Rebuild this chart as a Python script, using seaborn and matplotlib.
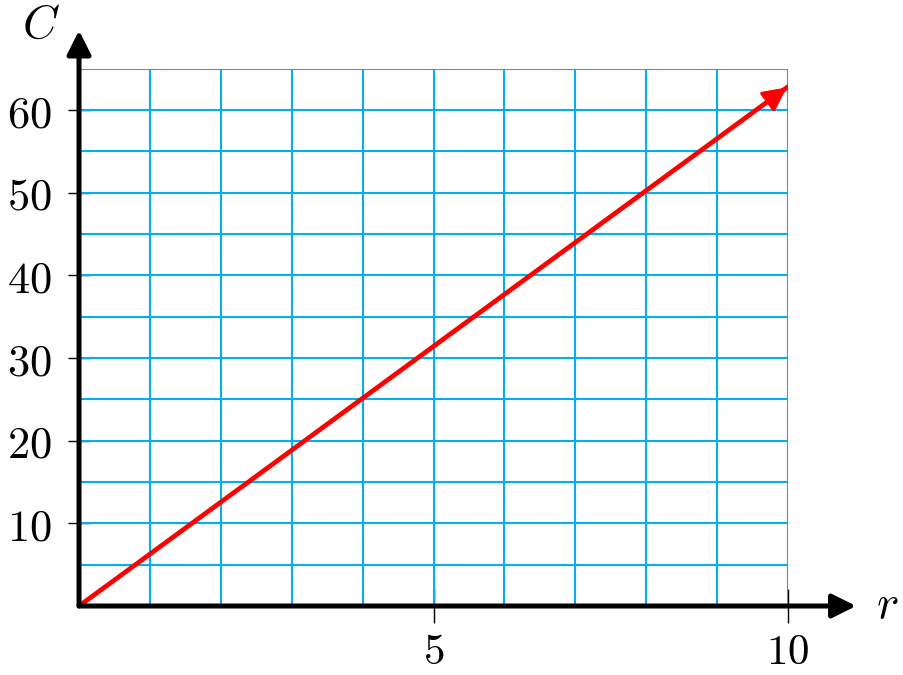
import numpy as np
import matplotlib
matplotlib.use('Agg')
import matplotlib.pyplot as plt
import seaborn as sns

# circumference C = 2*pi*r
r_vals = [0, 10]
c_vals = [0, 62.83]
x_ticks = [5, 10]
x_tick_labels = ['$5$', '$10$']
y_ticks = [10, 20, 30, 40, 50, 60]
y_tick_labels = ['$10$', '$20$', '$30$', '$40$', '$50$', '$60$']
grid_x = [1, 2, 3, 4, 5, 6, 7, 8, 9, 10]
grid_y = [5, 10, 15, 20, 25, 30, 35, 40, 45, 50, 55, 60, 65]

sns.set_style('white')
plt.rcParams['mathtext.fontset'] = 'cm'
plt.rcParams['font.family'] = ['DejaVu Sans']
plt.rcParams['text.color'] = 'black'
plt.rcParams['xtick.color'] = 'black'
plt.rcParams['ytick.color'] = 'black'

GRID = '#00b0f0'

fig = plt.figure(figsize=(9.04, 6.75), dpi=100)
ax = fig.add_axes([0.0874, 0.1022, 0.7843, 0.796])
ax.set_xlim(0, 10)
ax.set_ylim(0, 65)

# grid
ax.vlines(grid_x, 0, 65, color=GRID, lw=1.5, zorder=1)
ax.hlines(grid_y, 0, 10, color=GRID, lw=1.5, zorder=1)

# red line with arrow head
sns.lineplot(x=r_vals, y=c_vals, ax=ax, color='#ff0000', lw=3.4, zorder=3)
ax.annotate('', xy=(r_vals[-1], c_vals[-1]),
            xytext=(r_vals[-1] - 0.6, c_vals[-1] - 0.6 * c_vals[-1] / r_vals[-1]),
            arrowprops=dict(arrowstyle='-|>', mutation_scale=36, color='#ff0000', lw=2.4,
                            shrinkA=0, shrinkB=1),
            zorder=4)

# axes with arrows
for s in ax.spines.values():
    s.set_visible(False)
ax.annotate('', xy=(10.98, 0), xytext=(0, 0), annotation_clip=False,
            arrowprops=dict(arrowstyle='-|>', mutation_scale=36, color='black', lw=3.6,
                            shrinkA=0, shrinkB=1), zorder=5)
ax.annotate('', xy=(0, 69.8), xytext=(0, 0), annotation_clip=False,
            arrowprops=dict(arrowstyle='-|>', mutation_scale=36, color='black', lw=3.6,
                            shrinkA=0, shrinkB=1), zorder=5)

# ticks
ax.set_xticks(x_ticks)
ax.set_xticklabels(x_tick_labels)
ax.set_yticks(y_ticks)
ax.set_yticklabels(y_tick_labels)
ax.tick_params(axis='x', direction='inout', length=24, width=1, color='black',
               labelsize=31, pad=6, bottom=True)
ax.tick_params(axis='y', direction='inout', length=16, width=1, color='black',
               labelsize=32, pad=12, left=True)
ax.set_xlabel('')
ax.set_ylabel('')

ax.text(-0.54, 70.2, '$C$', fontsize=34, ha='center', va='center')
ax.text(11.4, 0.1, '$r$', fontsize=34, ha='center', va='center')

fig.savefig('out.png', dpi=100)
